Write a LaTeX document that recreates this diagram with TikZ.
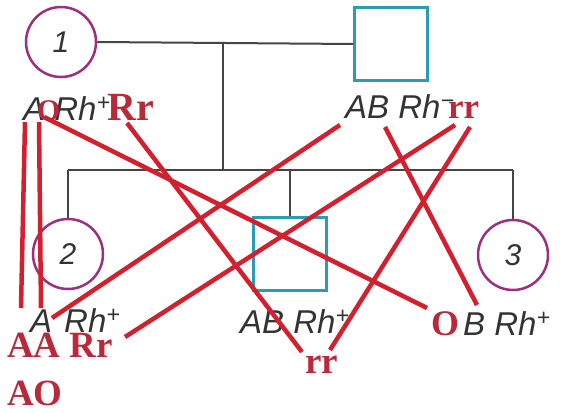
\documentclass[tikz,border=0pt]{standalone}
\usepackage{fontspec}
\setmainfont{Liberation Serif}
\setsansfont{Liberation Sans}
\definecolor{pedgray}{HTML}{454545}
\definecolor{femaleC}{HTML}{9B2F80}
\definecolor{maleC}{HTML}{2B9DB2}
\definecolor{markred}{HTML}{D2202F}
\definecolor{marktext}{HTML}{B8293A}
\tikzset{
  female/.style={circle, draw=femaleC, line width=2.5pt, minimum size=70pt, inner sep=0pt, fill=white,
    font=\sffamily\itshape\fontsize{30}{30}\selectfont, text=black!80},
  male/.style={rectangle, draw=maleC, line width=2.5pt, minimum size=73pt, inner sep=0pt, fill=white},
  pedline/.style={draw=pedgray, line width=2pt},
  pheno/.style={anchor=base west, inner sep=0pt, font=\sffamily\itshape\fontsize{33}{33}\selectfont, text=black!80},
  geno/.style={anchor=base west, inner sep=0pt, font=\bfseries\fontsize{37}{37}\selectfont, text=marktext},
  cross/.style={draw=markred, line width=4.5pt},
}
\begin{document}
\begin{tikzpicture}[x=1pt, y=-1pt]
\useasboundingbox (0,0) rectangle (564,412);

% pedigree: parents
\node[female] (p1) at (61,42) {1};
\node[male]   (p2) at (391,44) {};
\coordinate (mate) at (223,43);
\coordinate (sibL) at (68,170);
\coordinate (sibM) at (223,170);
\coordinate (sibR) at (513,170);
\coordinate (sibC) at (290,170);

% children
\node[female] (c2) at (68,254) {2};
\node[male]   (c4) at (290,254) {};
\node[female] (c3) at (513,255) {3};

\draw[pedline] (p1.east) -- (p2.west);
\draw[pedline] (mate) -- (sibM);
\draw[pedline] (sibL) -- (sibR);
\draw[pedline] (sibL) -- (c2.north);
\draw[pedline] (sibC) -- (c4.north);
\draw[pedline] (sibR) -- (c3.north);

% phenotypes
\node[pheno] (t1) at (23,120) {A Rh\textsuperscript{+}};
\node[pheno] (t2) at (345,118) {AB Rh\textsuperscript{\textminus}};
\node[pheno] (t3) at (30,332) {A\hspace{12pt}Rh\textsuperscript{+}};
\node[pheno] (t4) at (240,333) {AB Rh\textsuperscript{+}};
\node[pheno] (t5) at (463,335) {B Rh\textsuperscript{+}};

% end points of the allele lines
\coordinate (a1) at (25,122);   \coordinate (b1) at (21,308);
\coordinate (a2) at (39,122);   \coordinate (b2) at (41,308);
\coordinate (a3) at (44,117);   \coordinate (b3) at (427,308);
\coordinate (a4) at (127,123);  \coordinate (b4) at (302,352);
\coordinate (a5) at (340,125);  \coordinate (b5) at (52,318);
\coordinate (a6) at (455,125);  \coordinate (b6) at (125,337);
\coordinate (a7) at (470,127);  \coordinate (b7) at (330,350);
\coordinate (a8) at (385,127);  \coordinate (b8) at (477,305);

\foreach \i in {1,...,8} \draw[cross] (a\i) -- (b\i);

% genotypes
\node[geno, font=\bfseries\fontsize{30}{30}\selectfont] (g1) at (37,120) {O};
\node[geno, font=\bfseries\fontsize{40}{40}\selectfont] (g2) at (107,120) {Rr};
\node[geno, font=\bfseries\fontsize{35}{35}\selectfont] (g3) at (448,118) {rr};
\node[geno] (g4) at (7,357) {AA Rr};
\node[geno] (g5) at (7,405) {AO};
\node[geno] (g6) at (305,373) {rr};
\node[geno, font=\bfseries\fontsize{36}{36}\selectfont] (g7) at (431,335) {O};
\end{tikzpicture}
\end{document}
